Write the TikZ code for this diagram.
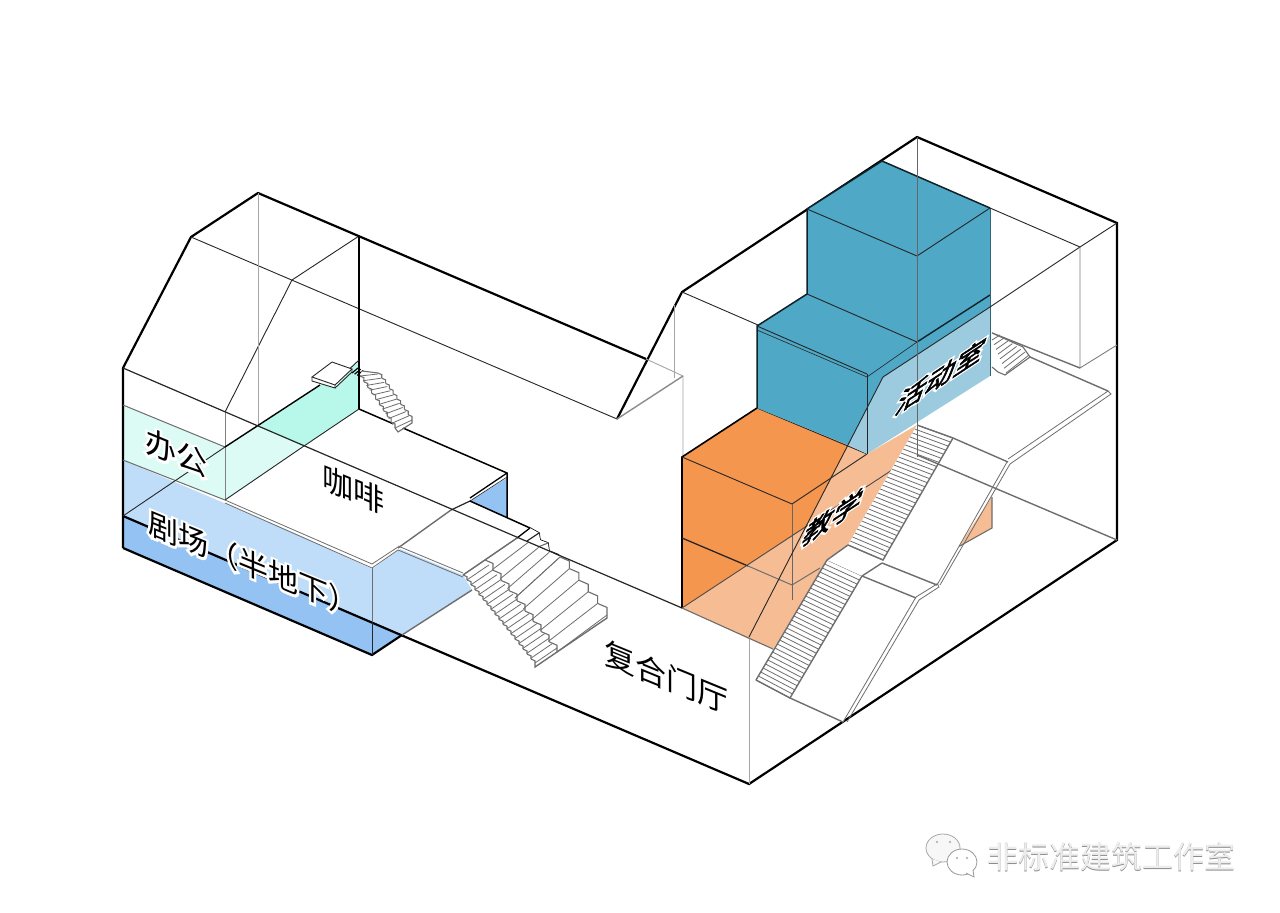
\documentclass[tikz,border=0pt]{standalone}
\usepackage{fontspec}
\setmainfont{Noto Sans CJK SC}
\newfontfamily\halofont[FakeBold=16]{Noto Sans CJK SC}
\newfontfamily\heavyfont[FakeBold=2.5]{Noto Sans CJK SC}
\usetikzlibrary{positioning}
\definecolor{roomblue}{HTML}{4FA8C6}
\definecolor{roomblueL}{HTML}{9CCBDF}
\definecolor{roomorange}{HTML}{F5964F}
\definecolor{roomorangeL}{HTML}{F6BD94}
\definecolor{hallblue}{HTML}{BFDDF8}
\definecolor{hallblueD}{HTML}{93C2F3}
\definecolor{officecyan}{HTML}{B8F8EA}
\definecolor{officecyanL}{HTML}{DCFBF5}
\definecolor{linegray}{HTML}{6E6E6E}
\tikzset{
  frame/.style={line width=2.2pt,black,line join=miter},
  thin/.style={line width=.9pt,black!85},
  faint/.style={line width=.9pt,black!35},
  stairline/.style={line width=.8pt,linegray,line join=miter},
  edgeline/.style={line width=1.4pt,linegray,line join=miter},
  isoleft/.style={cm={1,-.41,0,1,(0,0)},transform shape},
  isoright/.style={cm={1,.66,.35,1,(0,0)},transform shape},
  roomlabel/.style={font=\fontsize{31}{33}\selectfont,inner sep=0pt},
  roomlabelB/.style={font=\fontsize{29}{31}\selectfont\heavyfont,inner sep=0pt},
}
% treads between two edges: x1,y1,x2,y2 and x3,y3,x4,y4, then the count
\newcommand{\treads}[9]{%
  \foreach \i in {0,...,#9}{%
    \draw[stairline] ({#1+(#3-#1)*\i/#9},{#2+(#4-#2)*\i/#9}) -- ({#5+(#7-#5)*\i/#9},{#6+(#8-#6)*\i/#9});}}
% stepped outline along one edge
\newcommand{\zigedge}[5]{%
  \pgfmathsetmacro\sdx{(#3-#1)/#5}\pgfmathsetmacro\sdy{(#4-#2)/#5}%
  \foreach \i in {1,...,#5}{%
    \draw[stairline,line width=1.1pt] ({#1+(\i-1)*\sdx},{#2+(\i-1)*\sdy}) -- ++({\sdx},{.43*\sdx}) -- ({#1+\i*\sdx},{#2+\i*\sdy});}}
% text with a white rim
\newcommand{\halotext}[1]{\leavevmode\makebox[0pt][l]{\textcolor{white}{\halofont #1}}#1}
\newcommand{\embosstext}[1]{\leavevmode
  \makebox[0pt][l]{\hspace*{.8pt}\raisebox{-.8pt}{\textcolor{black!45}{#1}}}%
  \textcolor{black!7}{#1}}
\begin{document}
\begin{tikzpicture}[x=1pt,y=-1pt]
\useasboundingbox[fill=white] (0,0) rectangle (1280,913);
% theatre and office
\fill[hallblue] (123,460) -- (372,566) -- (372,622) -- (123,516) -- cycle;
\fill[hallblueD] (123,516) -- (372,622) -- (372,655) -- (123,548) -- cycle;
\fill[hallblue] (372,566) -- (398,548) -- (463,575) -- (472,590) -- (402,635) -- (372,622) -- cycle;
\fill[hallblueD] (372,622) -- (402,635) -- (372,655) -- cycle;
\fill[hallblueD] (470,501) -- (507,478) -- (507,517) -- cycle;
\fill[officecyanL] (123,405) -- (225,447) -- (258,426) -- (304,446) -- (225,500) -- (123,460) -- cycle;
\fill[officecyan] (258,426) -- (320,385) -- (359,362) -- (359,409) -- (304,446) -- cycle;
% roof lines, left wing
\draw[frame] (123,548) -- (123,368) -- (191,237) -- (258,193) -- (646,359);
\draw[frame] (617,419) -- (682,292) -- (917,137) -- (1117,223) -- (1117,540) -- (749,784) -- (123,516);
\draw[frame] (123,548) -- (372,655) -- (402,635);
\draw[thin] (191,237) -- (617,419);
\draw[thin] (292,280) -- (359,236);
\draw[thin] (292,280) -- (225,412);
\draw[thin,black!50] (225,412) -- (225,500);
\draw[faint] (258,193) -- (258,426);
\draw[frame,line width=1.4pt] (359,236) -- (359,409);
\draw[line width=1pt,linegray] (123,405) -- (225,447);
\draw[line width=1pt,linegray] (123,460) -- (225,500);
\draw[frame,line width=1.4pt] (225,447) -- (320,385);
\draw[thin] (123,516) -- (225,447);
\draw[thin] (341,377) -- (359,360);
\draw[faint] (646,359) -- (683,376) -- (683,457);
\draw[edgeline,black!45] (617,419) -- (683,376);
\draw[faint] (674,305) -- (674,378);
\draw[thin] (682,292) -- (758,325);
\draw[faint] (749,637) -- (749,784);
% cafe slab and bridge
\fill[white] (225,500) -- (359,409) -- (507,473) -- (372,569) -- cycle;
\draw[thin] (225,500) -- (304,446) -- (359,409);
\draw[frame,line width=1.5pt] (359,409) -- (507,473) -- (507,517);
\draw[stairline] (225,500) -- (372,564) -- (398,547);
\draw[stairline] (225,503) -- (372,568) -- (398,550);
\draw[stairline] (372,568) -- (372,622);
\draw[thin] (372,622) -- (372,655);
\draw[frame,line width=1.3pt] (507,473) -- (470,498);
\draw[thin,line width=.6pt] (507,477) -- (470,501);
\fill[white] (398,548) -- (470,501) -- (530,528) -- (485,560) -- (463,575) -- cycle;
\draw[edgeline] (398,548) -- (451,510);
\draw[thin,line width=1.2pt] (451,510) -- (470,501);
\draw[stairline] (398,546) -- (463,573);
\draw[stairline] (398,550) -- (463,577);
\draw[frame,line width=1.5pt] (470,501) -- (530,528) -- (539,533) -- (540,540) -- (548,543) -- (549,551) -- (559,555);
\draw[edgeline] (402,635) -- (472,590);
% main stairs
\fill[white] (463,575) -- (485,560) -- (517,538) -- (530,528) -- (539,533) -- (540,540) -- (548,543) -- (549,551) -- (560,557) -- (607,615) -- (607,618) -- (557,652) -- (535,667) -- cycle;
\treads{463}{575}{535}{663}{485}{560}{557}{648}{18}
\zigedge{463}{575}{535}{664}{18}
\treads{485}{560}{515}{598}{517}{538}{560}{557}{4}
\treads{515}{598}{557}{652}{560}{557}{607}{615}{5}
\zigedge{485}{560}{557}{652}{9}
\zigedge{560}{557}{607}{615}{5}
\draw[edgeline] (463,575) -- (517,538);
\draw[edgeline] (535,664) -- (535,667) -- (557,652) -- (607,618) -- (607,615);
\draw[frame,line width=1.3pt] (517,538) -- (530,528);
\draw[thin,line width=1.2pt] (527,541) -- (539,533);
\draw[stairline,line width=1.1pt] (538,547) -- (548,543);
% long floor line, left wing
\draw[thin,line width=1.2pt] (123,368) -- (682,608);
% upper stairs, left wing
\fill[white] (312,377) -- (332,362) -- (352,369) -- (335,388) -- (312,381) -- cycle;
\draw[thin] (312,377) -- (332,362) -- (352,369) -- (335,385) -- cycle;
\draw[thin] (312,377) -- (312,381) -- (335,388) -- (335,385);
\draw[thin] (335,388) -- (352,372) -- (352,369);
\foreach \i in {0,...,5}{%
  \draw[line width=1.2pt,black] ({352+\i*2.6},{373+\i*1.2}) -- ++(6,-5);}
\fill[white] (360,375) -- (362,371) -- (378,373) -- (412,420) -- (398,432) -- (393,424) -- cycle;
\treads{360}{376}{395}{428}{378}{374}{412}{420}{11}
\zigedge{360}{376}{395}{428}{9}
\zigedge{378}{373}{412}{420}{9}
\draw[stairline,line width=1.1pt] (362,371) -- (378,373);
\draw[stairline,line width=1.1pt] (395,428) -- (398,432) -- (412,423) -- (412,420);
% teaching block
\fill[roomorangeL] (682,608) -- (749,639) -- (773,649) -- (830,560) -- (848,545) -- (917,425) -- (867,454) -- (848,445) -- (805,528) -- cycle;
\fill[roomorangeL] (992,497) -- (992,528) -- (958,547) -- cycle;
\fill[roomorange] (682,457) -- (757,408) -- (848,445) -- (805,528) -- (682,608) -- cycle;
\draw[frame,line width=1.6pt] (682,608) -- (682,457) -- (757,408);
\draw[thin] (757,408) -- (867,454);
\draw[thin] (682,457) -- (792,504) -- (867,454);
\draw[thin,black!60] (792,504) -- (792,600);
\draw[thin,line width=1.3pt] (682,538) -- (748,566);
\draw[edgeline,line width=1pt] (748,566) -- (792,585) -- (820,568);
\draw[thin,black!70] (682,608) -- (892,470);
\draw[stairline,line width=1.1pt] (682,608) -- (773,649);
\draw[stairline,line width=1.1pt] (992,497) -- (992,528) -- (958,547);
% activity rooms
\fill[roomblue] (807,209) -- (882,161) -- (990,208) -- (990,307) -- (883,377) -- (848,445) -- (757,408) -- (757,326) -- (807,294) -- cycle;
\fill[roomblueL] (883,377) -- (990,307) -- (990,376) -- (867,454) -- (848,445) -- cycle;
\draw[frame,line width=1.5pt,black!80!roomblue] (757,408) -- (757,326) -- (807,294) -- (807,209) -- (882,161) -- (990,208);
\draw[thin] (807,209) -- (917,256) -- (990,208);
\draw[thin] (807,294) -- (917,342);
\draw[frame,line width=1.4pt,black!80!roomblue] (917,342) -- (990,295);
\draw[thin] (757,326) -- (867,374);
\draw[thin,line width=.6pt] (757,330) -- (867,377) -- (917,342);
\draw[thin] (867,374) -- (867,454);
\draw[line width=.8pt,roomblue!60!black] (990,208) -- (990,376);
\draw[thin] (883,377) -- (990,307);
% frame behind the rooms
\draw[thin] (990,208) -- (1080,247) -- (1117,223);
\draw[thin] (990,307) -- (1080,247);
\draw[thin,black!50] (1080,247) -- (1080,368) -- (1117,345);
% stairs and ramps, right wing
\fill[white] (827,560) -- (862,576) -- (790,698) -- (756,680) -- cycle;
\treads{827}{560}{756}{680}{862}{576}{790}{698}{30}
\fill[white] (848,545) -- (883,560) -- (953,438) -- (917,425) -- cycle;
\treads{848}{545}{917}{425}{883}{560}{953}{438}{30}
\fill[white] (790,698) -- (843,722) -- (916,598) -- (862,576) -- cycle;
\fill[white] (827,560) -- (848,545) -- (882,563) -- (862,576) -- cycle;
\fill[white] (883,560) -- (953,438) -- (1008,462) -- (937,585) -- cycle;
\draw[edgeline] (848,545) -- (827,560);
\draw[edgeline] (756,680) -- (827,560);
\draw[edgeline] (756,680) -- (790,698) -- (843,722);
\draw[edgeline] (790,698) -- (862,576) -- (882,563);
\draw[edgeline] (848,545) -- (883,560) -- (953,438) -- (1008,462);
\draw[edgeline] (917,425) -- (953,438);
\draw[edgeline] (862,576) -- (916,598);
\draw[edgeline] (882,563) -- (937,585);
\draw[stairline] (843,722) -- (916,597) -- (937,584);
\draw[stairline] (847,722) -- (919,600) -- (939,587) -- (937,583);
\draw[stairline] (937,585) -- (1007,462);
\draw[stairline] (940,585) -- (1010,464);
\draw[stairline] (1008,459) -- (1108,391) -- (1111,394) -- (1010,464);
\draw[edgeline] (917,455) -- (1117,540);
\draw[thin,black!60] (917,137) -- (917,457);
\draw[thin] (883,377) -- (749,637);
% small stair behind
\draw[edgeline] (992,333) -- (1080,368);
\fill[white] (992,333) -- (1023,347) -- (1030,357) -- (1005,375) -- (992,367) -- cycle;
\treads{992}{340}{1006}{373}{1000}{335}{1029}{355}{7}
\draw[stairline,line width=1.1pt] (992,333) -- (1023,347) -- (1030,357) -- (1005,375) -- (998,372) -- (992,367);
\draw[edgeline] (1030,357) -- (1108,391);
% labels
\node (office) [roomlabel,shift={(176,453)},isoleft] {\halotext{办公}};
\node (cafe) [roomlabel,shift={(353,490)},isoleft] {\halotext{咖啡}};
\node (theatre) [roomlabel,font=\fontsize{30}{32}\selectfont,shift={(253,565)},isoleft] {\halotext{剧场（半地下）}};
\node (lobby) [roomlabel,shift={(666,677)},isoleft] {\halotext{复合门厅}};
\node (teach) [roomlabelB,shift={(833,517)},isoright] {\halotext{教学}};
\node (activity) [roomlabelB,shift={(941,376)},isoright] {\halotext{活动室}};
% watermark
\node (mark) [font=\fontsize{31}{33}\selectfont,inner sep=0pt] at (1111,857) {\embosstext{非标准建筑工作室}};
\draw[line width=.8pt,black!35,fill=black!3] (943,848) ellipse (17 and 14);
\draw[line width=.8pt,black!35,fill=black!3] (932,859) -- (933,866) -- (941,862);
\draw[line width=.8pt,black!40,fill=white] (962,862) ellipse (15 and 13);
\draw[line width=.8pt,black!40,fill=white] (966,873) -- (974,877) -- (973,870);
\foreach \x/\y in {937/842,950/842,957/858,967/858}{\fill[black!35] (\x,\y) circle (1.2);}
\end{tikzpicture}
\end{document}
